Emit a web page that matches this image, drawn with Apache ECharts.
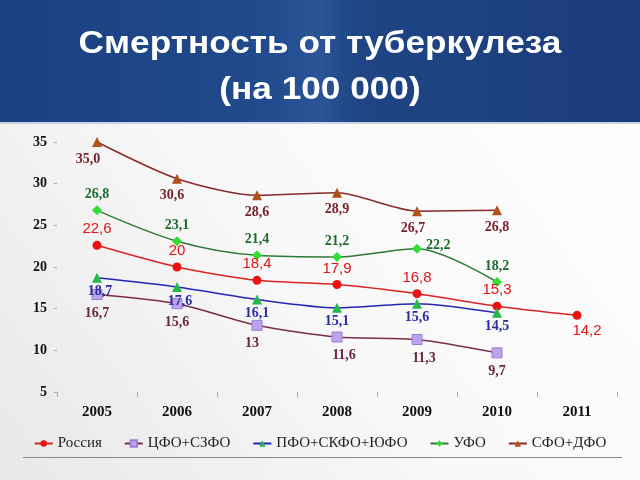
<!DOCTYPE html>
<html><head><meta charset="utf-8">
<script src="https://cdn.jsdelivr.net/npm/echarts@6/dist/echarts.min.js"></script>
<style>html,body{margin:0;padding:0;background:#fff}#c{width:640px;height:480px}</style>
</head><body><div id="c"></div>
<script>
var years = ['2005','2006','2007','2008','2009','2010','2011'];
var seriesNames = ['Россия','ЦФО+СЗФО','ПФО+СКФО+ЮФО','УФО','СФО+ДФО'];
var russia = [22.6, 20, 18.4, 17.9, 16.8, 15.3, 14.2];
var cfo = [16.7, 15.6, 13, 11.6, 11.3, 9.7, null];
var pfo = [18.7, 17.6, 16.1, 15.1, 15.6, 14.5, null];
var ufo = [26.8, 23.1, 21.4, 21.2, 22.2, 18.2, null];
var sfo = [35.0, 30.6, 28.6, 28.9, 26.7, 26.8, null];
var russiaText = ['22,6','20','18,4','17,9','16,8','15,3','14,2'];
var cfoText = ['16,7','15,6','13','11,6','11,3','9,7',''];
var pfoText = ['18,7','17,6','16,1','15,1','15,6','14,5',''];
var ufoText = ['26,8','23,1','21,4','21,2','22,2','18,2',''];
var sfoText = ['35,0','30,6','28,6','28,9','26,7','26,8',''];
var yTicks = [5, 10, 15, 20, 25, 30, 35];
var titleLines = ['Смертность от туберкулеза', '(на 100 000)'];

var serif = '"Liberation Serif", "DejaVu Serif", serif';
var sans = '"Liberation Sans", Arial, sans-serif';

function mk(values, texts, overrides) {
  return values.map(function (v, i) {
    var lab = { formatter: texts[i] };
    if (overrides && overrides[i]) Object.assign(lab, overrides[i]);
    return { value: v, label: lab };
  });
}

var chart = echarts.init(document.getElementById('c'), null, { renderer: 'canvas' });
chart.setOption({
  backgroundColor: {
    type: 'linear', x: 0, y: 1, x2: 1, y2: 0,
    colorStops: [{ offset: 0, color: '#e8e8e8' }, { offset: 0.45, color: '#f8f8f8' }, { offset: 1, color: '#ffffff' }]
  },
  animation: false,
  graphic: [
    { type: 'rect', z: 0, shape: { x: 0, y: 0, width: 640, height: 123 },
      style: { fill: { type: 'linear', x: 0, y: 0, x2: 1, y2: 0,
        colorStops: [{ offset: 0, color: '#1c3f80' }, { offset: 0.42, color: '#214b8c' }, { offset: 0.5, color: '#2a5596' }, { offset: 0.56, color: '#1f4585' }, { offset: 1, color: '#1c3c7c' }] } } },
    { type: 'rect', z: 1, shape: { x: 0, y: 122, width: 640, height: 2 }, style: { fill: '#c9d3e2' } },
    { type: 'text', z: 2, x: 320, y: 44, scaleX: 1.1, style: { text: titleLines[0], fill: '#ffffff', font: 'bold 32px ' + sans, textAlign: 'center', textVerticalAlign: 'middle' } },
    { type: 'text', z: 2, x: 320, y: 90, scaleX: 1.1, style: { text: titleLines[1], fill: '#ffffff', font: 'bold 32px ' + sans, textAlign: 'center', textVerticalAlign: 'middle' } },
    { type: 'line', z: 1, shape: { x1: 23, y1: 457.5, x2: 622, y2: 457.5 }, style: { stroke: '#8a8a8a', lineWidth: 1 } }
  ],
  legend: {
    bottom: 24, left: 'center', itemGap: 22, itemWidth: 18, itemHeight: 8,
    textStyle: { fontFamily: serif, fontSize: 15, color: '#222' },
    data: seriesNames
  },
  grid: { left: 57, right: 23, top: 142, bottom: 88 },
  xAxis: {
    type: 'category', data: years, boundaryGap: true,
    axisLine: { show: false },
    axisTick: { show: true, length: 5, lineStyle: { color: '#aaaaaa' } },
    axisLabel: { fontFamily: serif, fontWeight: 'bold', fontSize: 15, color: '#111', margin: 13 }
  },
  yAxis: {
    type: 'value', min: yTicks[0], max: yTicks[yTicks.length - 1], interval: 5,
    splitLine: { show: false }, axisLine: { show: false },
    axisTick: { show: true, length: 3, inside: false, lineStyle: { color: '#aaaaaa' } },
    axisLabel: { fontFamily: serif, fontWeight: 'bold', fontSize: 14, color: '#111', margin: 10 }
  },
  series: [
    { name: seriesNames[0], type: 'line', smooth: 0.25, symbol: 'circle', symbolSize: 9,
      lineStyle: { color: '#dd2222', width: 1.5 }, itemStyle: { color: '#ee1111' },
      label: { show: true, position: 'top', distance: 4, color: '#e01515', fontFamily: sans, fontSize: 15 },
      data: mk(russia, russiaText, { 6: { position: 'bottom', offset: [10, 0] } }) },
    { name: seriesNames[1], type: 'line', smooth: 0.25, symbol: 'rect', symbolSize: 10,
      lineStyle: { color: '#7a2c4e', width: 1.5 }, itemStyle: { color: '#bba4ec', borderColor: '#9a80d0', borderWidth: 1 },
      label: { show: true, position: 'bottom', distance: 6, color: '#6a2444', fontFamily: serif, fontWeight: 'bold', fontSize: 14 },
      data: mk(cfo, cfoText, { 2: { offset: [-5, 0] }, 3: { offset: [7, 0] }, 4: { offset: [7, 0] } }) },
    { name: seriesNames[2], type: 'line', smooth: 0.25, symbol: 'triangle', symbolSize: 10,
      lineStyle: { color: '#2525b5', width: 1.5 }, itemStyle: { color: '#22b84a' },
      label: { show: true, position: 'bottom', distance: 2, color: '#2a2aa5', fontFamily: serif, fontWeight: 'bold', fontSize: 14 },
      data: mk(pfo, pfoText, { 0: { offset: [3, 0] }, 1: { offset: [3, 0] } }) },
    { name: seriesNames[3], type: 'line', smooth: 0.3, symbol: 'diamond', symbolSize: 10,
      lineStyle: { color: '#2f7a35', width: 1.5 }, itemStyle: { color: '#33dd33' },
      label: { show: true, position: 'top', distance: 4, color: '#1f6a2c', fontFamily: serif, fontWeight: 'bold', fontSize: 14 },
      data: mk(ufo, ufoText, { 4: { position: 'right', distance: 4, offset: [0, -3] } }) },
    { name: seriesNames[4], type: 'line', smooth: 0.25, symbol: 'triangle', symbolSize: 10,
      lineStyle: { color: '#8a2a2a', width: 1.5 }, itemStyle: { color: '#b0501c' },
      label: { show: true, position: 'bottom', distance: 5, color: '#76222a', fontFamily: serif, fontWeight: 'bold', fontSize: 14 },
      data: mk(sfo, sfoText, { 0: { offset: [-9, 0] }, 1: { offset: [-5, 0] }, 4: { offset: [-4, 0] } }) }
  ]
});
</script></body></html>
